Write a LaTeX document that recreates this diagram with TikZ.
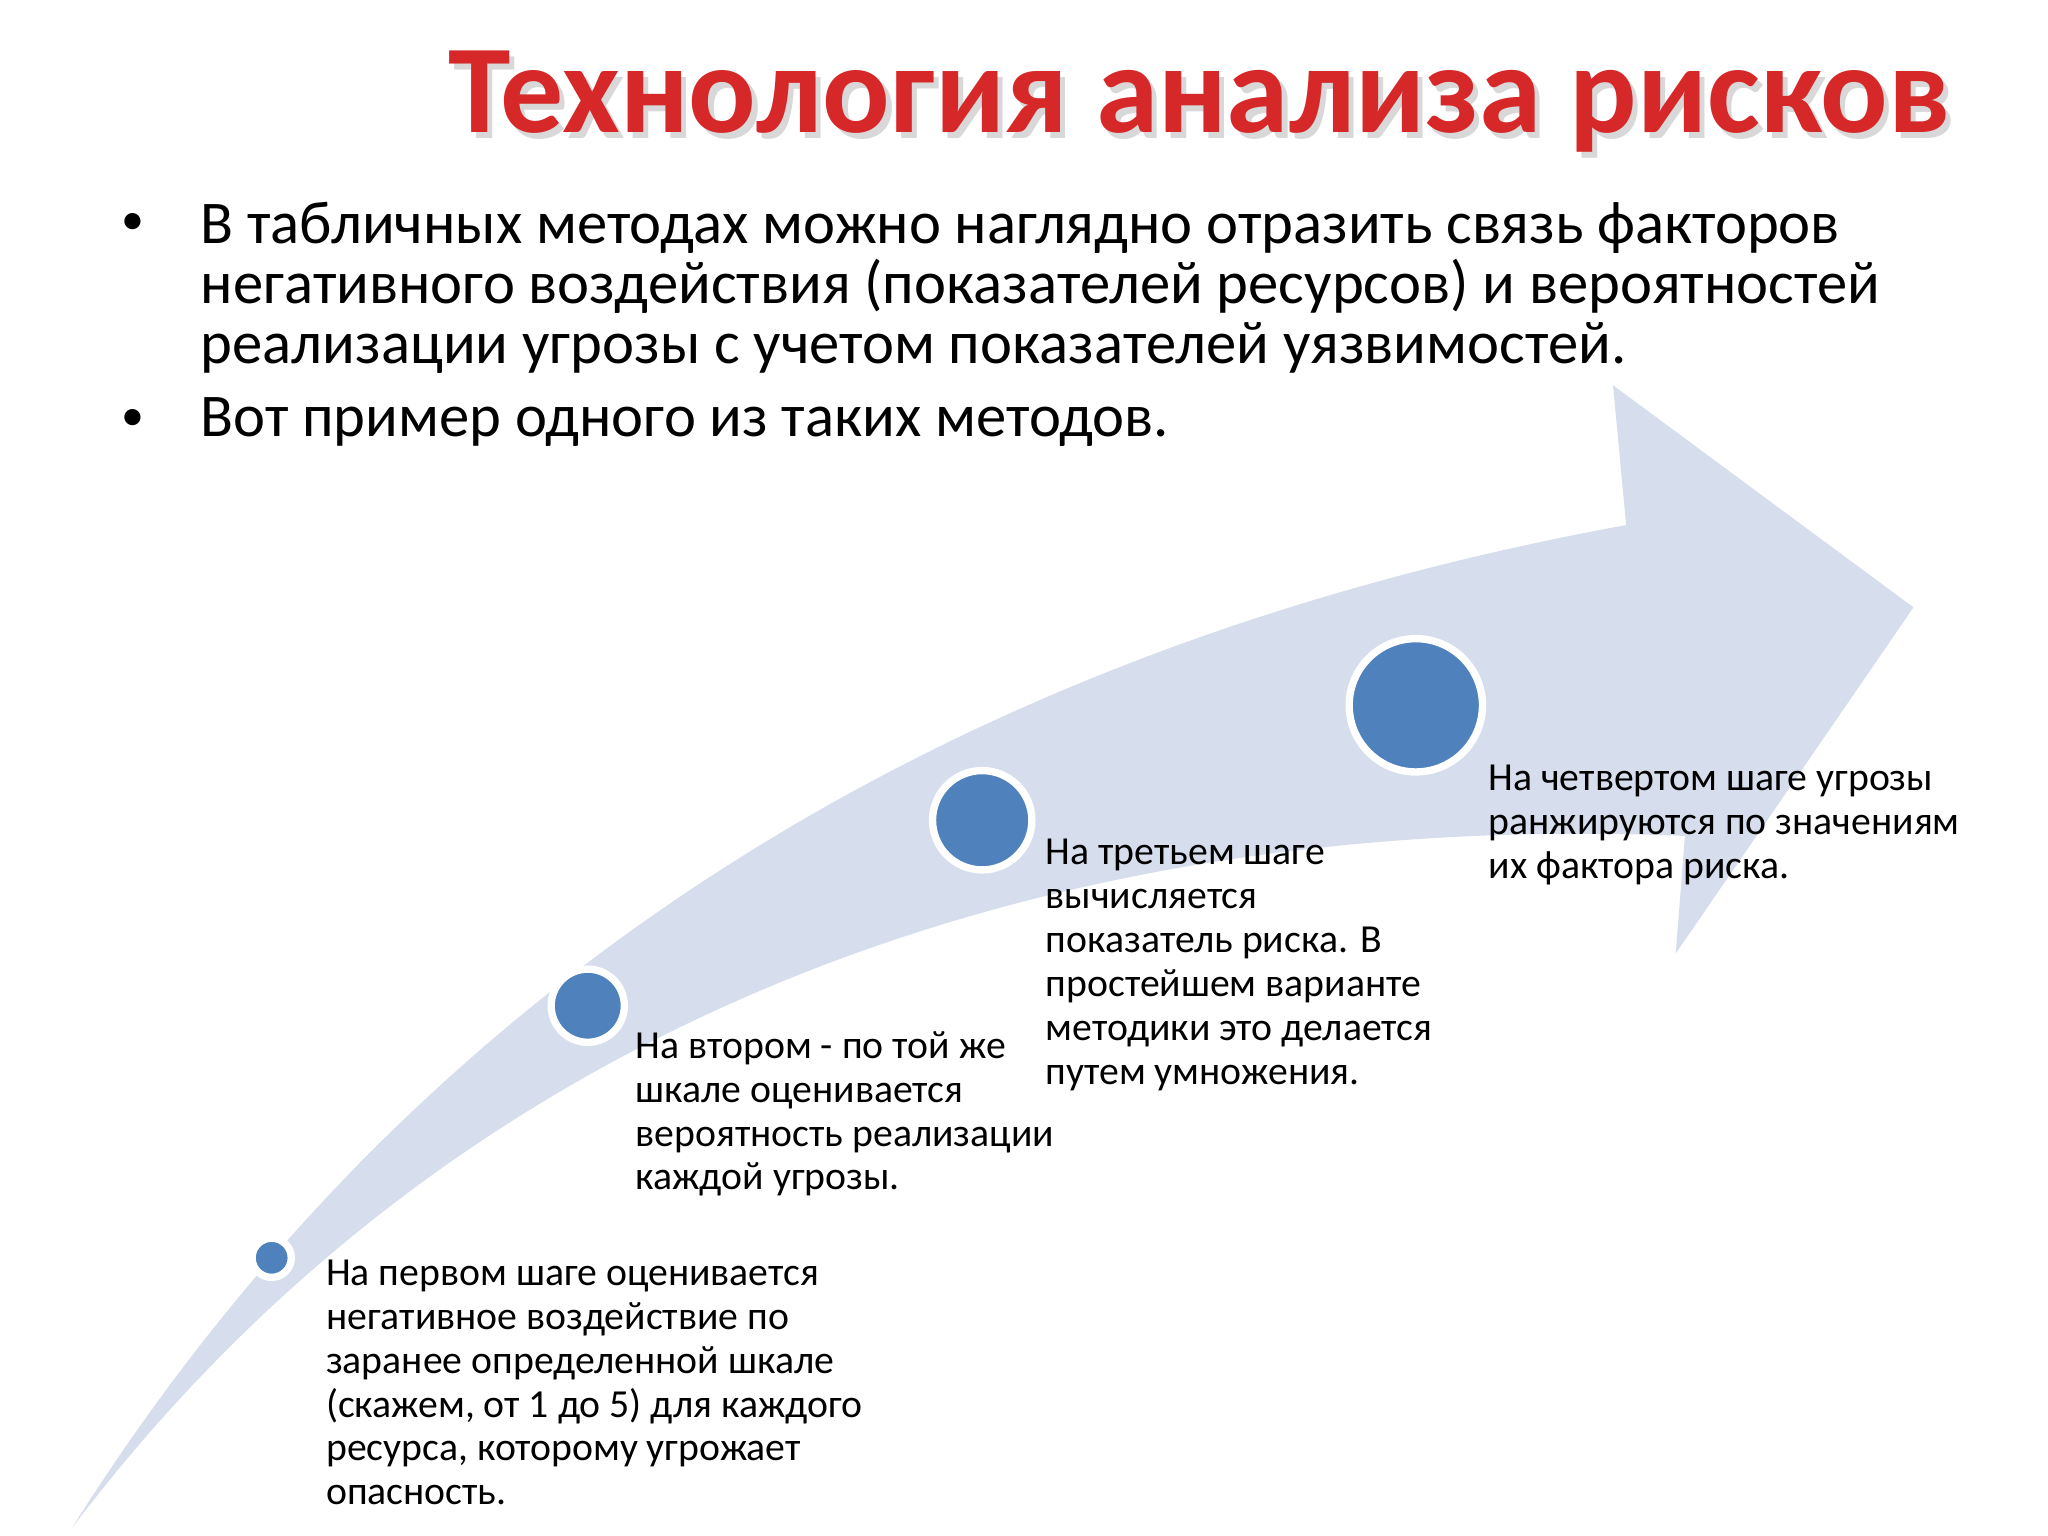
\documentclass[tikz,border=0pt]{standalone}
\usepackage{fontspec}
\setmainfont{Carlito}
\usetikzlibrary{shadows}
\definecolor{band}{RGB}{214,221,236}
\definecolor{dot}{RGB}{79,129,189}
\definecolor{ttl}{RGB}{214,40,40}
\begin{document}
\begin{tikzpicture}[x=0.01cm,y=-0.01cm,
  stepdot/.style={circle,fill=dot,draw=white,line width=1.6pt,inner sep=0pt,drop shadow={opacity=0.25,shadow xshift=0.5pt,shadow yshift=-0.5pt}},
  steptext/.style={anchor=north west,align=left,inner sep=0pt,font=\fontsize{8.65}{9.55}\selectfont},
  bul/.style={anchor=north west,align=left,inner sep=0pt,font=\fontsize{13.2}{13.1}\selectfont}]
\useasboundingbox (0,0) rectangle (1568,1176);
\fill[white] (0,0) rectangle (1568,1176);
% arrow band
\fill[band] (55,1170) .. controls (250,860) and (600,520) .. (1245,402)
  -- (1235,295) -- (1465,465) -- (1283,730) -- (1290,640)
  .. controls (800,620) and (350,780) .. (55,1170) -- cycle;
% title
\node[inner sep=0pt,text=black!30,opacity=0.5] at (922,82) {\fontsize{27.4}{30}\bfseries\selectfont Технология анализа рисков};
\node (title) [inner sep=0pt,text=ttl] at (918,78) {\fontsize{27.4}{30}\bfseries\selectfont Технология анализа рисков};
% bullets
\node (b1m) [bul,anchor=north,font=\fontsize{10}{13.1}\selectfont] at (102,163) {•};
\node (b1) [bul] at (153,154) {В табличных методах можно наглядно отразить связь факторов\\негативного воздействия (показателей ресурсов) и вероятностей\\реализации угрозы с учетом показателей уязвимостей.};
\node (b2m) [bul,anchor=north,font=\fontsize{10}{13.1}\selectfont] at (102,313) {•};
\node (b2) [bul] at (153,304) {Вот пример одного из таких методов.};
% dots
\node (d1) [stepdot,minimum size=0.30cm] at (208,963) {};
\node (d2) [stepdot,minimum size=0.56cm] at (450,770) {};
\node (d3) [stepdot,minimum size=0.76cm] at (752,628) {};
\node (d4) [stepdot,minimum size=1.02cm] at (1084,540) {};
% texts
\node (t1) [steptext] at (249,964) {На первом шаге оценивается\\негативное воздействие по\\заранее определенной шкале\\(скажем, от 1 до 5) для каждого\\ресурса, которому угрожает\\опасность.};
\node (t2) [steptext] at (486,789) {На втором - по той же\\шкале оценивается\\вероятность реализации\\каждой угрозы.};
\node (t3) [steptext] at (800,642) {На третьем шаге\\вычисляется\\показатель риска. В\\простейшем варианте\\методики это делается\\путем умножения.};
\node (t4) [steptext] at (1139,585) {На четвертом шаге угрозы\\ранжируются по значениям\\их фактора риска.};
\end{tikzpicture}
\end{document}
